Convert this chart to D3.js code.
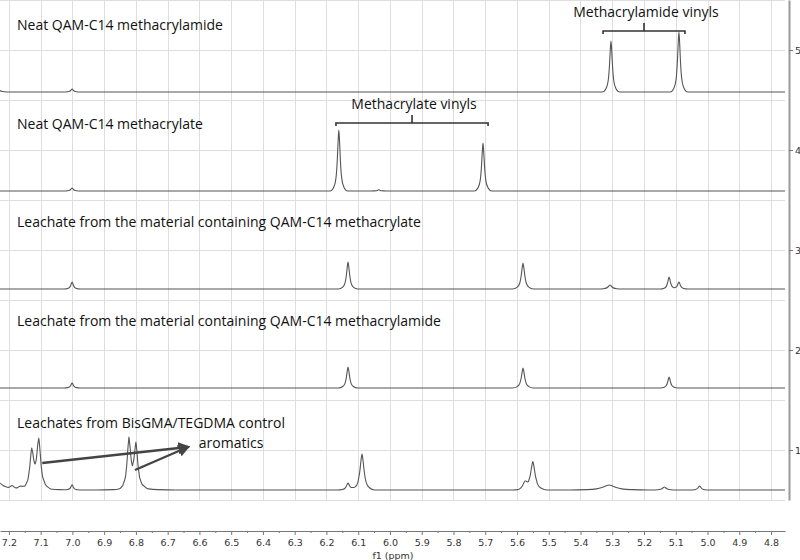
<!DOCTYPE html>
<html>
<head>
<meta charset="utf-8">
<title>QAM-C14 leachates 1H NMR</title>
<script src="https://cdn.jsdelivr.net/npm/d3@7"></script>
<style>
  body { margin: 0; background: #fff; }
  svg { display: block; }
  .grid line { stroke: #dedede; stroke-width: 1; shape-rendering: crispEdges; }
  .axis path, .axis line { stroke: #777; }
  .axis text { font-family: "DejaVu Sans", Verdana, sans-serif; font-size: 9.5px; fill: #333; }
  .trace { fill: none; stroke: #555; stroke-width: 1.1; }
  .label { font-family: "Open Sans", sans-serif; font-size: 14px; fill: #111; }
  .note { fill: none; stroke: #333; stroke-width: 1.6; }
  .arrow { stroke: #444; stroke-width: 2.4; }
</style>
</head>
<body>
<svg id="chart" width="800" height="560"></svg>
<script>
// spectra, top to bottom
var titles = [
  "Neat QAM-C14 methacrylamide",
  "Neat QAM-C14 methacrylate",
  "Leachate from the material containing QAM-C14 methacrylate",
  "Leachate from the material containing QAM-C14 methacrylamide",
  "Leachates from BisGMA/TEGDMA control"
];
// baseline of each spectrum on the right-hand scale
var offsets = [4.58, 3.59, 2.61, 1.62, 0.60];
// peaks: [ppm, height, width factor]
var peaks1 = [[7.235, 0.03, 1.5], [7.001, 0.03, 1], [5.304, 0.51, 1.1], [5.090, 0.60, 1.1]];
var peaks2 = [[7.001, 0.03, 1], [6.161, 0.61, 1.1], [6.035, 0.012, 1], [5.707, 0.48, 1.1]];
var peaks3 = [[7.001, 0.07, 1], [6.132, 0.27, 1.2], [5.581, 0.26, 1.3], [5.307, 0.04, 1.5],
              [5.121, 0.12, 1.1], [5.090, 0.07, 1.1]];
var peaks4 = [[7.001, 0.05, 1], [6.132, 0.21, 1.2], [5.581, 0.20, 1.3], [5.121, 0.11, 1.1]];
var peaks5 = [[7.235, 0.08, 4], [7.19, 0.03, 1.5], [7.165, 0.025, 1.5], [7.128, 0.36, 1.5],
              [7.106, 0.45, 1.5], [7.11, 0.05, 5], [7.001, 0.05, 1], [6.822, 0.48, 1.4],
              [6.800, 0.40, 1.4], [6.80, 0.05, 5], [6.132, 0.07, 1.3], [6.088, 0.36, 1.6],
              [5.575, 0.07, 1.5], [5.550, 0.28, 1.8], [5.31, 0.05, 5], [5.136, 0.03, 1.5],
              [5.025, 0.04, 1.2]];
var allPeaks = [peaks1, peaks2, peaks3, peaks4, peaks5];
var peakShape = [[0, 1], [0.002, 0.82], [0.0045, 0.5], [0.008, 0.22], [0.014, 0.07], [0.025, 0]];
// axis ticks
var xTicks = [7.2, 7.1, 7.0, 6.9, 6.8, 6.7, 6.6, 6.5, 6.4, 6.3, 6.2, 6.1, 6.0,
              5.9, 5.8, 5.7, 5.6, 5.5, 5.4, 5.3, 5.2, 5.1, 5.0, 4.9, 4.8];
var yTicks = [1, 2, 3, 4, 5];

var margin = { top: 0, left: 0, right: 15, bottom: 60 };
var width = 800, height = 560;
var plotRight = width - margin.right;
var plotBottom = 500;

var svg = d3.select("#chart");

var x = d3.scaleLinear().domain([7.228, 4.756]).range([0, plotRight]);
var y = d3.scaleLinear().domain([0.5, 5.5]).range([plotBottom, 0]);

// grid
var grid = svg.append("g").attr("class", "grid");
grid.selectAll(".v")
  .data(xTicks)
  .enter().append("line")
    .attr("x1", function(d) { return Math.round(x(d)) + 0.5; })
    .attr("x2", function(d) { return Math.round(x(d)) + 0.5; })
    .attr("y1", y(5.5))
    .attr("y2", y(0.5));
grid.selectAll(".h")
  .data(d3.range(0.5, 5.51, 0.5))
  .enter().append("line")
    .attr("x1", 0)
    .attr("x2", plotRight)
    .attr("y1", function(d) { return Math.round(y(d)) + 0.5; })
    .attr("y2", function(d) { return Math.round(y(d)) + 0.5; });

// spectra
function shape(d) {
  d = Math.abs(d);
  for (var i = 1; i < peakShape.length; i++) {
    if (d <= peakShape[i][0]) {
      var a = peakShape[i - 1], b = peakShape[i];
      return a[1] + (b[1] - a[1]) * (d - a[0]) / (b[0] - a[0]);
    }
  }
  return 0;
}
function tracePoints(peaks, offset) {
  var lo = x.domain()[1], hi = x.domain()[0];
  var xs = [hi, lo];
  peaks.forEach(function(p) {
    peakShape.forEach(function(s) {
      xs.push(p[0] + s[0] * p[2]);
      xs.push(p[0] - s[0] * p[2]);
    });
  });
  xs = xs.filter(function(v) { return v >= lo && v <= hi; }).sort(d3.descending);
  xs = xs.filter(function(v, i) { return i == 0 || xs[i - 1] - v > 1e-6; });
  return xs.map(function(ppm) {
    return [ppm, offset + d3.sum(peaks, function(p) { return p[1] * shape((ppm - p[0]) / p[2]); })];
  });
}
var line = d3.line()
  .x(function(d) { return x(d[0]); })
  .y(function(d) { return y(d[1]); })
  .curve(d3.curveMonotoneX);

svg.append("g").selectAll(".trace")
  .data(allPeaks)
  .enter().append("path")
    .attr("class", "trace")
    .attr("d", function(d, i) { return line(tracePoints(d, offsets[i])); });

// titles
svg.append("g").selectAll(".label")
  .data(titles)
  .enter().append("text")
    .attr("class", "label")
    .attr("x", 17)
    .attr("y", function(d, i) { return y(offsets[i] + 0.62); })
    .text(function(d) { return d; });

// bracket annotations
function bracket(p0, p1, v, label) {
  var g = svg.append("g");
  var x0 = x(p0), x1 = x(p1), yy = y(v), xm = (x0 + x1) / 2;
  g.append("path")
    .attr("class", "note")
    .attr("d", "M" + x0 + "," + (yy + 3) + "V" + yy + "H" + x1 + "V" + (yy + 3) +
      "M" + xm + "," + yy + "V" + (yy - 8));
  g.append("text")
    .attr("class", "label")
    .attr("text-anchor", "middle")
    .attr("x", xm + 2)
    .attr("y", yy - 14)
    .text(label);
}
bracket(5.329, 5.071, 5.19, "Methacrylamide vinyls");
bracket(6.170, 5.691, 4.27, "Methacrylate vinyls");

// aromatics arrows
var tip = [x(6.636), y(1.03)];
svg.append("defs").append("marker")
    .attr("id", "head")
    .attr("viewBox", "0 0 10 10")
    .attr("refX", 8).attr("refY", 5)
    .attr("markerWidth", 5).attr("markerHeight", 5)
    .attr("orient", "auto")
  .append("path")
    .attr("d", "M0,0L10,5L0,10z")
    .attr("fill", "#444");
[[7.095, 0.87], [6.803, 0.80]].forEach(function(s) {
  svg.append("line")
    .attr("class", "arrow")
    .attr("x1", x(s[0])).attr("y1", y(s[1]))
    .attr("x2", tip[0]).attr("y2", tip[1])
    .attr("marker-end", "url(#head)");
});
svg.append("text")
  .attr("class", "label")
  .attr("x", x(6.602))
  .attr("y", y(1.02))
  .text("aromatics");

// bottom axis
var xAxis = d3.axisBottom(x)
  .tickValues(xTicks)
  .tickSize(4)
  .tickSizeOuter(0)
  .tickPadding(4)
  .tickFormat(d3.format(".1f"));
svg.append("g")
  .attr("class", "axis")
  .attr("transform", "translate(0," + 531 + ")")
  .call(xAxis);
var minor = xTicks.slice(1).map(function(d, i) { return (d + xTicks[i]) / 2; });
svg.append("g")
  .attr("class", "axis")
  .attr("transform", "translate(0," + 531 + ")")
  .call(d3.axisBottom(x).tickValues(minor).tickSize(2).tickSizeOuter(0).tickFormat(""))
  .select(".domain").remove();
svg.append("text")
  .attr("x", 393)
  .attr("y", 559)
  .attr("text-anchor", "middle")
  .style("font-family", "DejaVu Sans, Verdana, sans-serif")
  .style("font-size", "9.5px")
  .style("fill", "#333")
  .text("f1 (ppm)");

// right axis
var yAxisGroup = svg.append("g")
  .attr("class", "axis")
  .attr("transform", "translate(789,0)")
  .call(d3.axisRight(y).tickValues(yTicks).tickSize(4).tickSizeOuter(0).tickPadding(2).tickFormat(d3.format("d")));
yAxisGroup.select(".domain").style("stroke", "#999").style("stroke-width", 2);
</script>
</body>
</html>
